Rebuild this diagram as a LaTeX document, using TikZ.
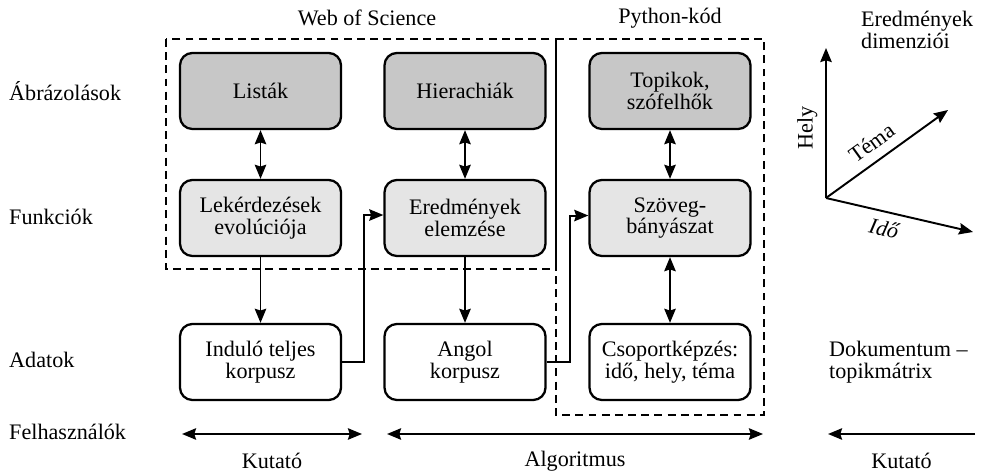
\documentclass[tikz,border=0pt]{standalone}
\usepackage{fontspec}
\setmainfont{Liberation Serif}
\usetikzlibrary{arrows.meta}

\definecolor{boxdark}{gray}{0.78}
\definecolor{boxlight}{gray}{0.9}

\tikzset{
    lbl/.style = {font=\fontsize{12.6}{12.4}\selectfont},
    box/.style = {lbl, draw, line width=1.3pt, rounded corners=7pt, align=center,
                  minimum width=3.22cm, minimum height=1.52cm},
    reprbox/.style = {box, fill=boxdark},
    funcbox/.style = {box, fill=boxlight},
    databox/.style = {box, fill=white},
    arr/.style = {line width=1.1pt, -{Stealth[length=8pt, width=6.5pt, inset=1pt]}},
    darr/.style = {line width=1.1pt, {Stealth[length=8pt, width=6.5pt, inset=1pt]}-{Stealth[length=8pt, width=6.5pt, inset=1pt]}},
    frame/.style = {line width=1.1pt, dash pattern=on 4.5pt off 3pt}
}

\begin{document}
\begin{tikzpicture}
    \useasboundingbox (0,0) rectangle (19.66,9.44);

    % keretek
    \draw[frame] (3.32,8.66) rectangle (11.12,4.06);
    \draw[frame] (11.12,8.66) rectangle (15.28,1.14);
    \draw[line width=1.1pt] (11.12,8.66) -- (11.12,4.06);

    % fejlecek
    \node[lbl] (wos) at (7.34,9.08) {Web of Science};
    \node[lbl] (python) at (13.40,9.08) {Python-kód};
    \node[lbl, anchor=west, align=left] (dimenziok) at (17.10,8.84) {Eredmények\\dimenziói};

    % sorok
    \node[lbl, anchor=west] (abrazolasok) at (0.06,7.62) {Ábrázolások};
    \node[lbl, anchor=west] (funkciok) at (0.06,5.10) {Funkciók};
    \node[lbl, anchor=west] (adatok) at (0.06,2.24) {Adatok};
    \node[lbl, anchor=west] (felhasznalok) at (0.06,0.80) {Felhasználók};

    % dobozok
    \node[reprbox] (listak) at (5.21,7.62) {Listák};
    \node[reprbox] (hierachiak) at (9.30,7.62) {Hierachiák};
    \node[reprbox] (topikok) at (13.40,7.62) {Topikok,\\szófelhők};

    \node[funcbox] (lekerdezesek) at (5.21,5.08) {Lekérdezések\\evolúciója};
    \node[funcbox] (eredmenyek) at (9.30,5.08) {Eredmények\\elemzése};
    \node[funcbox] (szoveg) at (13.40,5.08) {Szöveg-\\bányászat};

    \node[databox] (indulo) at (5.21,2.20) {Induló teljes\\korpusz};
    \node[databox] (angol) at (9.30,2.20) {Angol\\korpusz};
    \node[databox] (csoport) at (13.40,2.20) {Csoportképzés:\\idő, hely, téma};

    \node[lbl, anchor=west, align=left] (matrix) at (16.46,2.20) {Dokumentum –\\topikmátrix};

    % nyilak
    \draw[darr] (listak) -- (lekerdezesek);
    \draw[darr] (hierachiak) -- (eredmenyek);
    \draw[darr] (topikok) -- (szoveg);
    \draw[darr] (szoveg) -- (csoport);
    \draw[arr] (lekerdezesek) -- (indulo);
    \draw[arr] (eredmenyek) -- (angol);
    \draw[arr] (indulo.east) -- ++(0.43,0) |- ([yshift=1.7pt]eredmenyek.west);
    \draw[arr] (angol.east) -- ++(0.46,0) |- ([yshift=1.4pt]szoveg.west);

    % felhasznalok
    \coordinate (kutatoA1) at (3.64,0.76);
    \coordinate (kutatoA2) at (7.24,0.76);
    \coordinate (algo1) at (7.74,0.76);
    \coordinate (algo2) at (15.26,0.76);
    \coordinate (kutatoB1) at (19.50,0.76);
    \coordinate (kutatoB2) at (16.56,0.76);
    \draw[darr] (kutatoA1) -- node[lbl, yshift=-0.54cm] (kutatoA) {Kutató} (kutatoA2);
    \draw[darr] (algo1) -- node[lbl, yshift=-0.54cm] (algoritmus) {Algoritmus} (algo2);
    \draw[arr] (kutatoB1) -- node[lbl, yshift=-0.54cm] (kutatoB) {Kutató} (kutatoB2);

    % dimenziok
    \coordinate (origo) at (16.52,5.48);
    \coordinate (helyvege) at (16.52,8.48);
    \coordinate (temavege) at (18.96,7.24);
    \coordinate (idovege) at (19.46,4.80);
    \draw[arr] (origo) -- node[lbl, pos=0.47, sloped, above=1pt] (hely) {Hely} (helyvege);
    \draw[arr] (origo) -- node[lbl, pos=0.46, sloped, above=2pt] (tema) {Téma} (temavege);
    \draw[arr] (origo) -- node[lbl, pos=0.42, sloped, below=1pt, font=\fontsize{12.6}{12.4}\selectfont\itshape] (ido) {Idő} (idovege);
\end{tikzpicture}
\end{document}
